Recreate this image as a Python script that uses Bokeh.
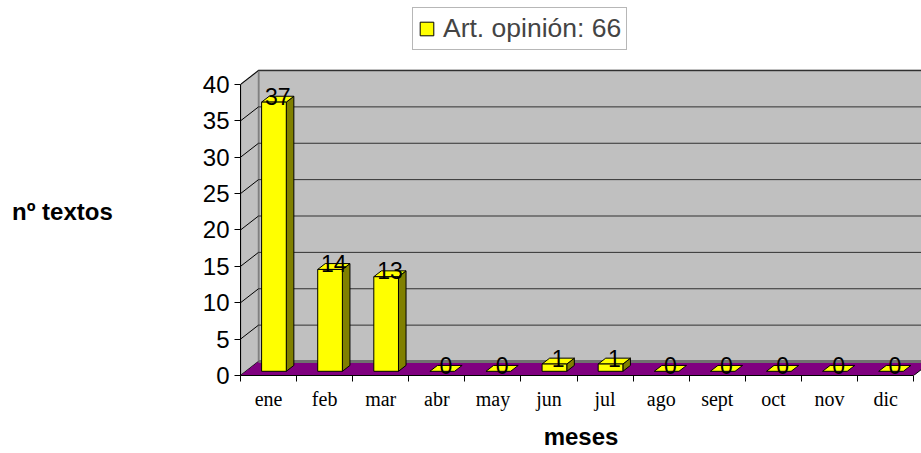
from bokeh.plotting import figure
from bokeh.models import Range1d, FixedTicker, Legend, LegendItem
from bokeh.core.properties import value
from bokeh.embed import file_html
from bokeh.resources import INLINE

# ---- data ----
months = ["ene", "feb", "mar", "abr", "may", "jun", "jul", "ago", "sept", "oct", "nov", "dic"]
counts = [37, 14, 13, 0, 0, 1, 1, 0, 0, 0, 0, 0]
y_ticks = [0, 5, 10, 15, 20, 25, 30, 35, 40]
series_name = "Art. opinión"
x_title = "meses"
y_title = "nº textos"

# ---- 3D geometry (in data units) ----
n = len(months)
YMAX = 40
DX = 0.321   # depth offset in category units
DY = 1.924   # depth offset in value units
F0, F1 = 0.30, 0.72   # bar depth span (fraction of depth)
W = 0.44     # bar width

p = figure(width=921, height=453, output_backend="svg", toolbar_location=None,
           x_range=Range1d(0, 12.14), y_range=Range1d(0, 51.546),
           min_border_left=240, min_border_right=0, min_border_top=0, min_border_bottom=78)
p.title.visible = False
p.outline_line_color = None
p.xgrid.visible = False
p.ygrid.visible = False
p.background_fill_color = "white"

# back wall
p.quad(left=[DX], right=[n + DX + 1], bottom=[DY], top=[YMAX + DY],
       fill_color="#c0c0c0", line_color="#808080", line_width=2)
# left wall
p.patch(x=[0, 0, DX, DX], y=[0, YMAX, YMAX + DY, DY],
        fill_color="#c0c0c0", line_color="#808080", line_width=1.5)
# gridlines on back wall and diagonals on left wall
for v in y_ticks[1:]:
    p.line(x=[DX, n + DX + 1], y=[v + DY, v + DY], line_color="#303030", line_width=1)
for v in y_ticks:
    p.line(x=[0, DX], y=[v, v + DY], line_color="black", line_width=1)
# floor
p.patch(x=[0, n, n + DX, DX], y=[0, 0, DY, DY], fill_color="#800080", line_color=None)
p.line(x=[DX, n + DX + 1], y=[DY, DY], line_color="#707070", line_width=3)
p.line(x=[n, n + DX], y=[0, DY], line_color="black", line_width=1)

# bars
dxb = (F1 - F0) * DX
dyb = (F1 - F0) * DY
fl, fr, fb, ft = [], [], [], []
side_x, side_y, top_x, top_y = [], [], [], []
lab_x, lab_y, lab_t = [], [], []
for i, v in enumerate(counts):
    L = i + 0.5 - W / 2 + F0 * DX
    R = L + W
    b = F0 * DY
    t = v + F0 * DY
    if v > 0:
        fl.append(L); fr.append(R); fb.append(b); ft.append(t)
        side_x.append([R, R + dxb, R + dxb, R]); side_y.append([b, b + dyb, t + dyb, t])
    top_x.append([L, R, R + dxb, L + dxb]); top_y.append([t, t, t + dyb, t + dyb])
    lab_x.append(i + 0.5 + (F0 + F1) / 2 * DX)
    lab_y.append(v + 1.4)
    lab_t.append(str(v))

p.patches(xs=side_x, ys=side_y, fill_color="#808000", line_color="black", line_width=1)
p.patches(xs=top_x, ys=top_y, fill_color="#ffff00", line_color="black", line_width=1)
front = p.quad(left=fl, right=fr, bottom=fb, top=ft, fill_color="#ffff00",
               line_color="black", line_width=1)

p.text(x=lab_x, y=lab_y, text=lab_t, text_align="center", text_baseline="alphabetic",
       text_font=value("Liberation Sans"), text_font_size="23px", text_color="black")

# axes
ya = p.yaxis[0]
ya.ticker = FixedTicker(ticks=y_ticks)
ya.bounds = (0, YMAX)
ya.major_label_text_font = "Liberation Sans"
ya.major_label_text_font_size = "24px"
ya.major_label_text_color = "black"
ya.major_tick_out = 6
ya.major_tick_in = 0
ya.minor_tick_line_color = None
ya.axis_line_color = "black"
ya.major_label_standoff = 5
ya.axis_label = "\n" + y_title
ya.axis_label_orientation = "horizontal"
ya.axis_label_text_font = "Liberation Sans"
ya.axis_label_text_font_style = "bold"
ya.axis_label_text_font_size = "24px"
ya.axis_label_text_line_height = 1.75
ya.axis_label_text_color = "black"
ya.axis_label_standoff = 87

xa = p.xaxis[0]
centers = [i + 0.5 for i in range(n)]
xa.ticker = FixedTicker(ticks=centers, minor_ticks=list(range(n + 1)))
xa.major_label_overrides = {c: m for c, m in zip(centers, months)}
xa.bounds = (0, n)
xa.major_tick_line_color = None
xa.major_tick_out = 6
xa.major_tick_in = 0
xa.minor_tick_out = 6
xa.minor_tick_in = 0
xa.minor_tick_line_color = "black"
xa.axis_line_color = "black"
xa.major_label_text_font = "Liberation Serif"
xa.major_label_text_font_size = "20px"
xa.major_label_text_color = "black"
xa.major_label_standoff = 6
xa.axis_label = x_title
xa.axis_label_text_font = "Liberation Sans"
xa.axis_label_text_font_style = "bold"
xa.axis_label_text_font_size = "24px"
xa.axis_label_text_color = "black"
xa.axis_label_standoff = 10

legend = Legend(items=[LegendItem(label=f"{series_name}: {sum(counts)}", renderers=[front])],
                location=(172, 325), orientation="vertical",
                label_text_font="Liberation Sans", label_text_font_size="26.5px",
                glyph_width=17, glyph_height=17, label_standoff=8, padding=5,
                spacing=0, margin=0, label_height=26,
                border_line_color="#707070", border_line_width=1,
                background_fill_color="white", background_fill_alpha=1)
p.add_layout(legend, "center")

open("out.html", "w").write(file_html(p, INLINE))
